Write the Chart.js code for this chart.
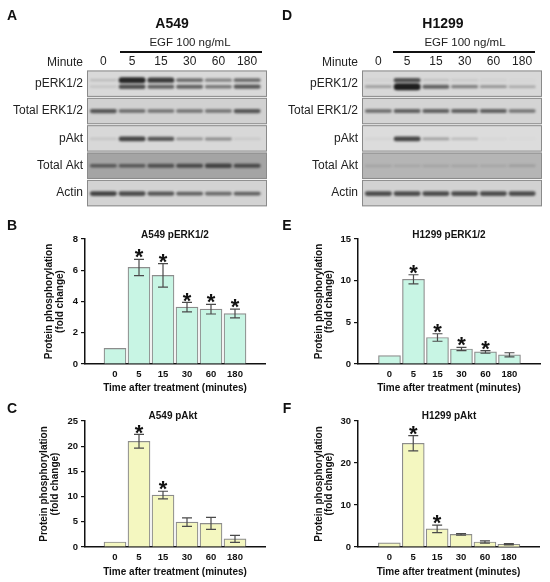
<!DOCTYPE html>
<html>
<head>
<meta charset="utf-8">
<script src="https://cdn.jsdelivr.net/npm/chart.js@4.4.1/dist/chart.umd.min.js"></script>
<style>
  body { margin: 0; background: #fff; font-family: "Liberation Sans", Arial, sans-serif; }
  #fig { position: relative; width: 550px; height: 582px; overflow: hidden; background: #fff; }
  #fig canvas { position: absolute; }
  .t { position: absolute; white-space: nowrap; line-height: 1; transform: translate(-50%, -50%); color: #111; font-family: "Liberation Sans", Arial, sans-serif; }
  .r { transform: translate(-100%, -50%); }
  .letter { font-weight: bold; font-size: 14px; }
  .cell { font-weight: bold; font-size: 14px; }
  .egf { font-size: 11.5px; color: #222; }
  .minute { font-size: 12px; color: #222; }
  .ctitle { font-weight: bold; font-size: 10px; }
  .bar { position: absolute; height: 1.6px; background: #111; }
</style>
</head>
<body>
<div id="fig">
  <canvas id="blotA" width="275" height="220" style="left:0;top:0"></canvas>
  <canvas id="blotD" width="275" height="220" style="left:275px;top:0"></canvas>
  <canvas id="chartB" width="275" height="180" style="left:0;top:220px"></canvas>
  <canvas id="chartE" width="275" height="180" style="left:275px;top:220px"></canvas>
  <canvas id="chartC" width="275" height="182" style="left:0;top:400px"></canvas>
  <canvas id="chartF" width="275" height="182" style="left:275px;top:400px"></canvas>

  <div class="t letter" style="left:12px;top:15px">A</div>
  <div class="t letter" style="left:287px;top:15px">D</div>
  <div class="t letter" style="left:12px;top:225px">B</div>
  <div class="t letter" style="left:287px;top:225px">E</div>
  <div class="t letter" style="left:12px;top:408px">C</div>
  <div class="t letter" style="left:287px;top:408px">F</div>

  <div class="t cell" style="left:172px;top:23px">A549</div>
  <div class="t cell" style="left:443px;top:23px">H1299</div>
  <div class="t egf" style="left:190px;top:43px">EGF 100 ng/mL</div>
  <div class="t egf" style="left:465px;top:43px">EGF 100 ng/mL</div>
  <div class="bar" style="left:120px;top:51px;width:142px"></div>
  <div class="bar" style="left:393px;top:51px;width:142px"></div>
  <div class="t r minute" style="left:83px;top:62px">Minute</div>
  <div class="t r minute" style="left:358px;top:62px">Minute</div>

  <div class="t ctitle" style="left:175px;top:235px">A549 pERK1/2</div>
  <div class="t ctitle" style="left:449px;top:235px">H1299 pERK1/2</div>
  <div class="t ctitle" style="left:173px;top:416px">A549 pAkt</div>
  <div class="t ctitle" style="left:449px;top:416px">H1299 pAkt</div>
</div>
<script>
// time points (lanes / x categories)
const minutes = ["0", "5", "15", "30", "60", "180"];
const blotRows = ["pERK1/2", "Total ERK1/2", "pAkt", "Total Akt", "Actin"];

// band intensities (0 = none, 1 = saturated)
const a549PerkUpper = [0.15, 0.9, 0.8, 0.55, 0.45, 0.55];
const a549PerkLower = [0.12, 0.7, 0.6, 0.6, 0.5, 0.65];
const a549TotalErk = [0.65, 0.55, 0.5, 0.5, 0.5, 0.65];
const a549Pakt = [0.1, 0.75, 0.65, 0.35, 0.4, 0.08];
const a549TotalAkt = [0.55, 0.55, 0.6, 0.65, 0.7, 0.65];
const a549Actin = [0.75, 0.7, 0.65, 0.6, 0.55, 0.6];

const h1299PerkUpper = [0.04, 0.7, 0.12, 0.08, 0.04, 0.02];
const h1299PerkLower = [0.3, 1.0, 0.6, 0.45, 0.35, 0.25];
const h1299TotalErk = [0.55, 0.6, 0.6, 0.6, 0.6, 0.5];
const h1299Pakt = [0.05, 0.75, 0.3, 0.18, 0.03, 0.02];
const h1299TotalAkt = [0.12, 0.1, 0.12, 0.12, 0.1, 0.15];
const h1299Actin = [0.7, 0.7, 0.7, 0.7, 0.7, 0.7];

// quantification: mean fold change, error, significance
const a549Erk = [1.0, 6.18, 5.67, 3.64, 3.51, 3.23];
const a549ErkErr = [0, 0.52, 0.75, 0.3, 0.31, 0.28];
const a549ErkSig = [0, 1, 1, 1, 1, 1];
const a549ErkTicks = [0, 2, 4, 6, 8];

const h1299Erk = [1.0, 10.16, 3.18, 1.8, 1.45, 1.1];
const h1299ErkErr = [0, 0.55, 0.45, 0.2, 0.16, 0.25];
const h1299ErkSig = [0, 1, 1, 1, 1, 0];
const h1299ErkTicks = [0, 5, 10, 15];

const a549Akt = [1.0, 20.98, 10.3, 4.93, 4.68, 1.6];
const a549AktErr = [0, 1.35, 0.76, 0.85, 1.18, 0.7];
const a549AktSig = [0, 1, 1, 0, 0, 0];
const a549AktTicks = [0, 5, 10, 15, 20, 25];

const h1299Akt = [1.0, 24.7, 4.3, 3.0, 1.2, 0.65];
const h1299AktErr = [0, 1.8, 0.9, 0.2, 0.27, 0.16];
const h1299AktSig = [0, 1, 1, 0, 0, 0];
const h1299AktTicks = [0, 10, 20, 30];

Chart.defaults.font.family = "'Liberation Sans', Arial, sans-serif";
Chart.defaults.color = "#111";
Chart.defaults.animation = false;

// draws the blot strips and bands at the scale positions
const blotPlugin = {
  id: "blot",
  beforeDatasetsDraw(chart, args, opts) {
    const { ctx, chartArea: a, scales: { x, y } } = chart;
    ctx.save();
    opts.rows.forEach((bands, r) => {
      const cy = y.getPixelForValue(r);
      const left = a.left - 2, w = a.right - a.left + 7.5;
      ctx.fillStyle = opts.bg[r];
      ctx.fillRect(left, cy - 13.2, w, 26.4);
      ctx.strokeStyle = "#8a8a8a";
      ctx.lineWidth = 1;
      ctx.strokeRect(left + 0.5, cy - 12.7, w - 1, 25.4);
      bands.forEach(b => {
        b.values.forEach((v, i) => {
          if (v <= 0) return;
          const cx = x.getPixelForValue(i);
          const bh = 2.2 + 4.8 * v * v;
          ctx.filter = "blur(1.1px)";
          ctx.fillStyle = "rgba(30,30,30," + Math.min(1, v * 1.05) + ")";
          ctx.beginPath();
          ctx.roundRect(cx - 13.5, cy + b.dy - bh / 2, 27, bh, bh / 2);
          ctx.fill();
          ctx.filter = "none";
        });
      });
    });
    ctx.restore();
  }
};

function makeBlot(id, rows, bg) {
  return new Chart(document.getElementById(id), {
    type: "bar",
    data: { labels: minutes, datasets: [] },
    options: {
      responsive: false,
      animation: false,
      layout: { padding: { left: 0, right: 13.5, top: 0, bottom: 7 } },
      plugins: { legend: { display: false }, tooltip: { enabled: false }, blot: { rows: rows, bg: bg } },
      scales: {
        x: {
          type: "category", labels: minutes, position: "top", offset: true,
          afterFit: s => { s.height = 70; },
          grid: { display: false, drawTicks: false }, border: { display: false },
          ticks: { font: { size: 12 }, color: "#222", padding: 1, maxRotation: 0, autoSkip: false }
        },
        y: {
          type: "category", labels: blotRows, offset: true,
          afterFit: s => { s.width = 89; },
          grid: { display: false, drawTicks: false }, border: { display: false },
          ticks: { font: { size: 12 }, color: "#222", padding: 6, autoSkip: false }
        }
      }
    },
    plugins: [blotPlugin]
  });
}

makeBlot("blotA", [
  [{ values: a549PerkUpper, dy: -3.5 }, { values: a549PerkLower, dy: 3 }],
  [{ values: a549TotalErk, dy: 0 }],
  [{ values: a549Pakt, dy: 0.5 }],
  [{ values: a549TotalAkt, dy: 0 }],
  [{ values: a549Actin, dy: 0.5 }]
], ["#d9d9d9", "#d1d1d1", "#d8d8d8", "#a4a4a4", "#d3d3d3"]);

makeBlot("blotD", [
  [{ values: h1299PerkUpper, dy: -3.5 }, { values: h1299PerkLower, dy: 3 }],
  [{ values: h1299TotalErk, dy: 0 }],
  [{ values: h1299Pakt, dy: 0.5 }],
  [{ values: h1299TotalAkt, dy: 0 }],
  [{ values: h1299Actin, dy: 0.5 }]
], ["#d8d8d8", "#d4d4d4", "#dcdcdc", "#b5b5b5", "#d2d2d2"]);

// error bars and significance stars
const errPlugin = {
  id: "errs",
  afterDatasetsDraw(chart, args, opts) {
    const { ctx, scales: { y } } = chart;
    const meta = chart.getDatasetMeta(0);
    ctx.save();
    meta.data.forEach((bar, i) => {
      const v = opts.means[i], e = opts.errs[i];
      const top = y.getPixelForValue(v + e);
      const bot = y.getPixelForValue(v - e);
      if (e > 0) {
        ctx.strokeStyle = "#4a4a4a";
        ctx.lineWidth = 1.2;
        ctx.beginPath();
        ctx.moveTo(bar.x, top); ctx.lineTo(bar.x, bot);
        ctx.moveTo(bar.x - 5, top); ctx.lineTo(bar.x + 5, top);
        ctx.moveTo(bar.x - 5, bot); ctx.lineTo(bar.x + 5, bot);
        ctx.stroke();
      }
      if (opts.sig[i]) {
        ctx.fillStyle = "#111";
        ctx.font = "bold 22px 'Liberation Sans', Arial, sans-serif";
        ctx.textAlign = "center";
        ctx.textBaseline = "middle";
        ctx.fillText("*", bar.x, top - 1);
      }
    });
    ctx.restore();
  }
};

function makeBars(id, means, errs, sig, yTicks, fill, cfg) {
  return new Chart(document.getElementById(id), {
    type: "bar",
    data: {
      datasets: [{
        data: means.map((v, i) => ({ x: i, y: v })),
        backgroundColor: fill,
        borderColor: "#8c8c8c",
        borderWidth: 1.2,
        barThickness: 22
      }]
    },
    options: {
      responsive: false,
      animation: false,
      layout: { padding: { top: cfg.top, right: cfg.right, left: 0, bottom: 0 } },
      plugins: {
        legend: { display: false },
        tooltip: { enabled: false },
        errs: { means: means, errs: errs, sig: sig }
      },
      scales: {
        x: {
          type: "linear", min: cfg.xMin, max: cfg.xMax,
          afterBuildTicks: s => { s.ticks = minutes.map((m, i) => ({ value: i })); },
          afterFit: s => { s.height = cfg.xH; },
          grid: { drawOnChartArea: false, drawTicks: false },
          border: { color: "#111", width: 1.5 },
          ticks: { callback: v => minutes[v], font: { size: 9.5, weight: "bold" }, color: "#111", padding: 5, maxRotation: 0, autoSkip: false },
          title: { display: true, text: "Time after treatment (minutes)", font: { size: 10, weight: "bold" }, color: "#111", padding: { top: 0, bottom: cfg.xTitlePad } }
        },
        y: {
          min: 0, max: yTicks[yTicks.length - 1],
          afterBuildTicks: s => { s.ticks = yTicks.map(v => ({ value: v })); },
          afterFit: s => { s.width = cfg.yW; },
          grid: { drawOnChartArea: false, drawTicks: true, tickLength: 4, color: "#111", lineWidth: 1.2 },
          border: { color: "#111", width: 1.5 },
          ticks: { font: { size: 9.5, weight: "bold" }, color: "#111", padding: 3 },
          title: { display: true, text: ["Protein phosphorylation", "(fold change)"], font: { size: 10, weight: "bold", lineHeight: 1.05 }, color: "#111", padding: { top: cfg.yTitlePad, bottom: 0 } }
        }
      }
    },
    plugins: [errPlugin]
  });
}

const mint = "#c8f5e4";
const lemon = "#f4f7c0";

makeBars("chartB", a549Erk, a549ErkErr, a549ErkSig, a549ErkTicks, mint,
  { top: 19, right: 10, yW: 85, xH: 36, xMin: -0.625, xMax: 5.625, yTitlePad: 44, xTitlePad: 6 });
makeBars("chartE", h1299Erk, h1299ErkErr, h1299ErkSig, h1299ErkTicks, mint,
  { top: 19, right: 10, yW: 83, xH: 36, xMin: -0.68, xMax: 5.64, yTitlePad: 38.5, xTitlePad: 6 });
makeBars("chartC", a549Akt, a549AktErr, a549AktSig, a549AktTicks, lemon,
  { top: 21, right: 10, yW: 85, xH: 35, xMin: -0.625, xMax: 5.625, yTitlePad: 39, xTitlePad: 4 });
makeBars("chartF", h1299Akt, h1299AktErr, h1299AktSig, h1299AktTicks, lemon,
  { top: 21, right: 11, yW: 83, xH: 35, xMin: -0.68, xMax: 5.63, yTitlePad: 38.5, xTitlePad: 4 });
</script>
</body>
</html>
